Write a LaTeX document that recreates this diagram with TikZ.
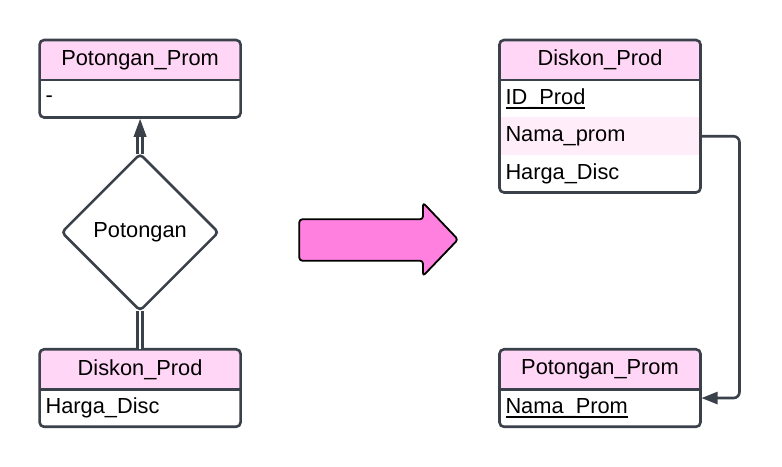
\documentclass[tikz,border=0pt]{standalone}
\usepackage{fontspec}
\setmainfont{Liberation Sans}
\usetikzlibrary{positioning,shapes.geometric,arrows.meta}
\definecolor{ln}{HTML}{3A414A}
\definecolor{hdpink}{HTML}{FFD6F5}
\definecolor{rowpink}{HTML}{FFEEFA}
\definecolor{bigpink}{HTML}{FF80DF}
\newcommand\pkey[1]{\setbox0\hbox{#1}\rlap{\vrule height -3pt depth 4.5pt width \wd0}\box0}
\tikzset{
  hdr/.style={minimum width=201pt, minimum height=40pt, fill=hdpink, rounded corners=4pt, inner sep=0pt, outer sep=0pt},
  attr/.style={minimum width=201pt, text width=189pt, minimum height=37.5pt, inner xsep=6pt, inner ysep=0pt, outer sep=0pt, align=left},
  tbl/.style={draw=ln, line width=2.6pt, rounded corners=4.5pt},
  sep/.style={draw=ln, line width=2.6pt},
  rel/.style={diamond, draw=ln, line width=2.6pt, minimum width=156.5pt, minimum height=156.5pt, inner sep=0pt, outer sep=0pt, rounded corners=4pt},
  dbl/.style={draw=ln, double=white, double distance=2.5pt, line width=2.5pt},
  conn/.style={draw=ln, line width=2.6pt, rounded corners=6pt, -{Triangle[length=16pt,width=12pt]}},
  bigarr/.style={draw=black, line width=1.8pt, fill=bigpink, rounded corners=3pt, line join=round}
}
\begin{document}
\begin{tikzpicture}[x=1pt, y=1pt, font=\fontsize{21.8}{26}\selectfont]
  \useasboundingbox (0,0) rectangle (782,466);
  % left side: entity - relation - entity
  \node [hdr] (pph) at (140.1,406) {Potongan\_Prom};
  \node [attr, below=0pt of pph] (pp1) {-};
  \node [rel] (pot) at (140.1,233.7) {Potongan};
  \node [hdr] (dph) at (140.1,96.7) {Diskon\_Prod};
  \node [attr, below=0pt of dph] (dp1) {Harga\_Disc};
  \draw [tbl] (pph.north west) rectangle (pp1.south east);
  \draw [tbl] (dph.north west) rectangle (dp1.south east);
  \draw [dbl, shorten >=17pt] (pot.north) -- (pp1.south);
  \draw [draw=ln, line width=1pt, -{Triangle[length=18pt,width=13pt]}, shorten <=20pt, shorten >=1.5pt] (pot.north) -- (pp1.south);
  \draw [dbl] (pot.south) -- (dph.north);
  % big arrow
  \draw [bigarr] (299.3,205.3) -- (423,205.3) -- (423,190) -- (458,226.5) -- (423,263.3) -- (423,246.7) -- (299.3,246.7) -- cycle;
  % right side: tables
  \node [hdr] (dkh) at (600,406) {Diskon\_Prod};
  \node [attr, below=0pt of dkh] (dk1) {\pkey{ID\_Prod}};
  \node [attr, fill=rowpink, below=0pt of dk1] (dk2) {Nama\_prom};
  \node [attr, below=0pt of dk2] (dk3) {Harga\_Disc};
  \node [hdr] (pnh) at (600,96.7) {Potongan\_Prom};
  \node [attr, below=0pt of pnh] (pn1) {\pkey{Nama\_Prom}};
  \draw [tbl] (dkh.north west) rectangle (dk3.south east);
  \draw [tbl] (pnh.north west) rectangle (pn1.south east);
  \foreach \t in {pph,dph,dkh,pnh} \draw [sep] (\t.south west) -- (\t.south east);
  \draw [conn, shorten >=1pt] (dk2.east) -- ++(39,0) |- ([yshift=10pt]pn1.east);
\end{tikzpicture}
\end{document}
